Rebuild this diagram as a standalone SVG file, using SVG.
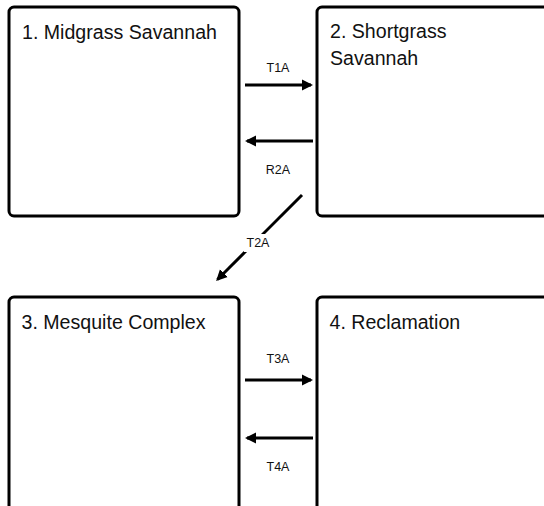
<svg xmlns="http://www.w3.org/2000/svg" width="544" height="506" viewBox="0 0 544 506">
  <style>
    .box { fill: #fff; stroke: #000; stroke-width: 3; }
    .title { font-family: "Liberation Sans", Arial, sans-serif; font-size: 19.6px; fill: #111; }
    .lbl { font-family: "Liberation Sans", Arial, sans-serif; font-size: 12.5px; fill: #111; text-anchor: middle; dominant-baseline: central; }
    .conn { stroke: #000; stroke-width: 3; fill: none; }
  </style>
  <defs>
    <marker id="ah" markerUnits="userSpaceOnUse" markerWidth="12" markerHeight="12" viewBox="0 0 12 12" refX="9" refY="6" orient="auto">
      <path d="M0,0.5 L11,6 L0,11.5 z" fill="#000"/>
    </marker>
  </defs>
  <rect width="544" height="506" fill="#fff"/>

  <g id="node1">
    <rect class="box" x="9" y="7" width="230" height="209" rx="5"/>
    <text class="title" x="22" y="39">1. Midgrass Savannah</text>
  </g>
  <g id="node2">
    <rect class="box" x="317" y="7" width="240" height="209" rx="5"/>
    <text class="title" x="330" y="38">2. Shortgrass</text>
    <text class="title" x="330" y="64.5">Savannah</text>
  </g>
  <g id="node3">
    <rect class="box" x="9" y="297" width="230" height="230" rx="5"/>
    <text class="title" x="21.5" y="329">3. Mesquite Complex</text>
  </g>
  <g id="node4">
    <rect class="box" x="317" y="297" width="240" height="230" rx="5"/>
    <text class="title" x="329.5" y="329">4. Reclamation</text>
  </g>

  <g id="connectors">
    <line class="conn" x1="245" y1="85" x2="311" y2="85" marker-end="url(#ah)"/>
    <text class="lbl" x="278" y="68">T1A</text>
    <line class="conn" x1="313" y1="141" x2="247" y2="141" marker-end="url(#ah)"/>
    <text class="lbl" x="278" y="170">R2A</text>
    <line class="conn" x1="302" y1="195" x2="217.5" y2="279.5" marker-end="url(#ah)"/>
    <rect x="244" y="234" width="28" height="18" fill="#fff"/>
    <text class="lbl" x="258" y="243">T2A</text>
    <line class="conn" x1="245" y1="380" x2="311" y2="380" marker-end="url(#ah)"/>
    <text class="lbl" x="278" y="359">T3A</text>
    <line class="conn" x1="313" y1="438" x2="247" y2="438" marker-end="url(#ah)"/>
    <text class="lbl" x="278" y="467">T4A</text>
  </g>
</svg>
